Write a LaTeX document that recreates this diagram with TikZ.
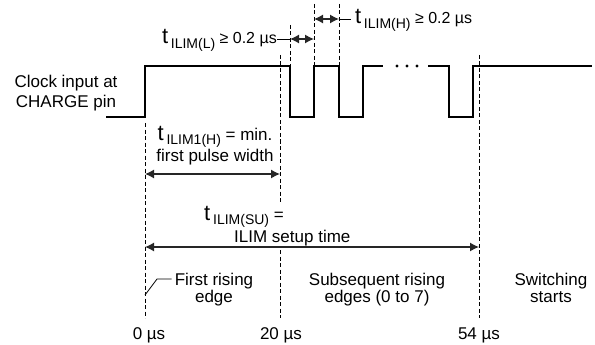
\documentclass[tikz,border=0pt]{standalone}
\usepackage{fontspec}
\setmainfont{Liberation Sans}
\usetikzlibrary{arrows.meta}
\newcommand{\tsym}[1]{{\fontsize{22}{22}\selectfont t}\,\smash{\raisebox{-4.5pt}{\fontsize{14}{14}\selectfont #1}}}

\begin{document}
\begin{tikzpicture}[
  x=1pt,y=-1pt,
  wave/.style={line width=1.8pt, line join=miter},
  guide/.style={line width=0.8pt, dash pattern=on 4pt off 2.5pt},
  dim/.style={{Latex[length=9pt,width=9pt]}-{Latex[length=9pt,width=9pt]}, line width=1.2pt, draw=black!85},
  lead/.style={line width=0.8pt},
  lbl/.style={font=\fontsize{17}{17}\selectfont, inner sep=0pt}]
\useasboundingbox (0,0) rectangle (595,345);
% clock waveform
\draw[wave] (106,117) -- (145,117) -- (145,66) -- (290,66) -- (290,117) -- (314,117) -- (314,66)
  -- (339,66) -- (339,117) -- (363,117) -- (363,66) -- (383,66);
\foreach \x in {397,407,417}
  \fill (\x,66) circle (1.6pt);
\draw[wave] (428,66) -- (449,66) -- (449,117) -- (473,117) -- (473,66) -- (592,66);
% time marks
\draw[guide] (145,123) -- (145,318);
\draw[guide] (280,55) -- (280,318);
\draw[guide] (290,25) -- (290,66);
\draw[guide] (314,4) -- (314,66);
\draw[guide] (339,4) -- (339,66);
\draw[guide] (479,55) -- (479,318);
\coordinate (l1) at (290,39);  \coordinate (l2) at (314,39);
\coordinate (h1) at (314,19);  \coordinate (h2) at (339,19);
\coordinate (p1) at (145,174); \coordinate (p2) at (280,174);
\coordinate (s1) at (145,247); \coordinate (s2) at (479,247);
\coordinate (fe) at (145,295);
% labels (multi-line nodes sit on their last line)
\node[lbl, align=center, anchor=base, font=\fontsize{17}{20}\selectfont] (clk) at (66,107) {Clock input at\\CHARGE pin};
\node[lbl, anchor=base east, font=\fontsize{16}{16}\selectfont] (tl) at (277,44) {\tsym{ILIM(L)} ≥ 0.2 µs};
\node[lbl, anchor=base west, font=\fontsize{16}{16}\selectfont] (th) at (355,24) {\tsym{ILIM(H)} ≥ 0.2 µs};
\node[lbl, align=center, anchor=base, font=\fontsize{17}{21}\selectfont] (tp) at (215,161) {\tsym{ILIM1(H)} = min.\\first pulse width};
\node[lbl, align=left, anchor=base west, fill=white, inner sep=2pt] (ts) at (202,242)
 {\tsym{ILIM(SU)} =\\[5pt]\hspace*{30pt}ILIM setup time};
\node[lbl, align=center, anchor=base, font=\fontsize{17}{16.5}\selectfont] (fr) at (214,302) {First rising\\edge};
\node[lbl, align=center, anchor=base, font=\fontsize{17}{16.5}\selectfont] (sr) at (377,302) {Subsequent rising\\edges (0 to 7)};
\node[lbl, align=center, anchor=base, font=\fontsize{17}{16.5}\selectfont] (sw) at (551,302) {Switching\\starts};
\node[lbl, anchor=base] (z0) at (149,339) {0 µs};
\node[lbl, anchor=base] (z20) at (281,339) {20 µs};
\node[lbl, anchor=base] (z54) at (479,339) {54 µs};
% dimension arrows
\draw[dim] (l1) -- (l2);
\draw[dim] (h1) -- (h2);
\draw[dim] (p1) -- (p2);
\draw[dim] (s1) -- (s2);
\draw[lead] (tl.east |- l1) -- (l1);
\draw[lead] (h2) -- ([xshift=-4pt]th.west |- h2);
\draw[lead] (fe) -- ++(12,-16) -- ([xshift=-3pt]fr.west |- 0,279);
\end{tikzpicture}
\end{document}
